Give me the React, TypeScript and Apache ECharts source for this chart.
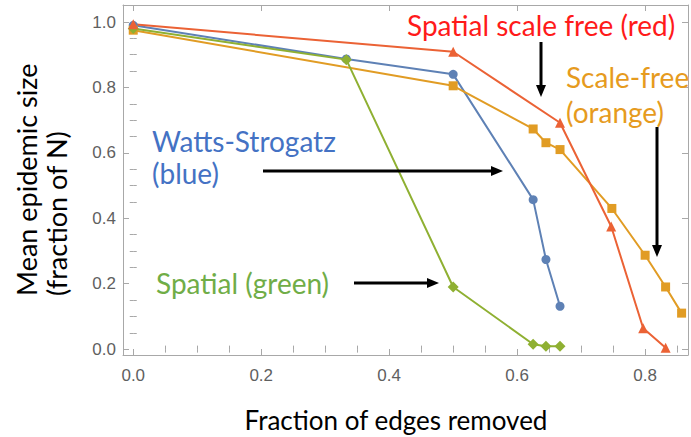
import React, { useEffect, useRef } from "react";
import * as echarts from "echarts";

// Series data (fraction of edges removed, mean epidemic size)
const wsX = [0, 0.333, 0.5, 0.625, 0.645, 0.667];
const wsY = [0.99, 0.887, 0.84, 0.457, 0.274, 0.131];
const sfX = [0, 0.5, 0.625, 0.645, 0.667, 0.748, 0.8, 0.832, 0.857];
const sfY = [0.975, 0.805, 0.673, 0.631, 0.61, 0.43, 0.287, 0.19, 0.11];
const spX = [0, 0.333, 0.5, 0.625, 0.645, 0.667];
const spY = [0.98, 0.885, 0.19, 0.015, 0.009, 0.009];
const ssfX = [0, 0.5, 0.667, 0.747, 0.797, 0.832];
const ssfY = [0.993, 0.909, 0.692, 0.375, 0.064, 0.004];

// Axis ticks
const xMajor = [0, 0.2, 0.4, 0.6, 0.8];
const xMinor = [0.05, 0.1, 0.15, 0.25, 0.3, 0.35, 0.45, 0.5, 0.55, 0.65, 0.7, 0.75, 0.85];
const yMajor = [0, 0.2, 0.4, 0.6, 0.8, 1.0];
const yMinor = [0.05, 0.1, 0.15, 0.25, 0.3, 0.35, 0.45, 0.5, 0.55, 0.65, 0.7, 0.75, 0.85, 0.9, 0.95];

const X_MIN = -0.016;
const X_MAX = 0.867;
const Y_MIN = -0.018;
const Y_MAX = 1.052;

const FRAME = "#a8a8a8";
const LABEL = "#5f5f5f";
const FONT = "Lato";

const pairs = (xs: number[], ys: number[]) => xs.map((x, i) => [x, ys[i]]);

function axisPair(kind: "x" | "y", pos: string, major: number[], minor: number[], labels: boolean) {
  const min = kind === "x" ? X_MIN : Y_MIN;
  const max = kind === "x" ? X_MAX : Y_MAX;
  return [
    {
      type: "value",
      position: pos,
      min,
      max,
      axisLine: { show: true, onZero: false, lineStyle: { color: FRAME, width: 1 } },
      axisTick: { show: true, inside: true, length: 6, customValues: major, lineStyle: { color: FRAME, width: 1 } },
      axisLabel: {
        show: labels,
        customValues: major,
        formatter: (v: number) => v.toFixed(1),
        color: LABEL,
        fontSize: 17,
        fontFamily: "Liberation Sans",
        margin: kind === "x" ? 12 : 7,
      },
      splitLine: { show: false },
    },
    {
      type: "value",
      position: pos,
      min,
      max,
      axisLine: { show: false },
      axisTick: { show: true, inside: true, length: 3.5, customValues: minor, lineStyle: { color: FRAME, width: 1 } },
      axisLabel: { show: false },
      splitLine: { show: false },
    },
  ];
}

function arrow(x1: number, y1: number, x2: number, y2: number) {
  const dx = x2 - x1;
  const dy = y2 - y1;
  const len = Math.sqrt(dx * dx + dy * dy);
  const ux = dx / len;
  const uy = dy / len;
  const hl = 12;
  const hw = 5;
  const bx = x2 - ux * hl;
  const by = y2 - uy * hl;
  return [
    {
      type: "line",
      shape: { x1, y1, x2: bx + ux * 2, y2: by + uy * 2 },
      style: { stroke: "#000", lineWidth: 3 },
      z: 100,
    },
    {
      type: "polygon",
      shape: {
        points: [
          [x2, y2],
          [bx - uy * hw, by + ux * hw],
          [bx + uy * hw, by - ux * hw],
        ],
      },
      style: { fill: "#000" },
      z: 100,
    },
  ];
}

function label(text: string, x: number, y: number, color: string, size = 28) {
  return {
    type: "text",
    x,
    y,
    z: 100,
    style: {
      text,
      fill: color,
      font: `${size}px ${FONT}`,
      textAlign: "left",
      textVerticalAlign: "middle",
    },
  };
}

export default function App() {
  const ref = useRef<HTMLDivElement>(null);

  useEffect(() => {
    document.body.style.margin = "0";
    if (!ref.current) return;
    const chart = echarts.init(ref.current, null, { renderer: "svg" });

    const lineSeries = (name: string, xs: number[], ys: number[], color: string, symbol: string, size: number) => ({
      name,
      type: "line",
      data: pairs(xs, ys),
      xAxisIndex: 0,
      yAxisIndex: 0,
      symbol,
      symbolSize: size,
      showSymbol: true,
      lineStyle: { color, width: 2 },
      itemStyle: { color, borderWidth: 0 },
      emphasis: { disabled: true },
    });

    chart.setOption({
      animation: false,
      backgroundColor: "#ffffff",
      grid: { left: 123, right: 3, top: 5, bottom: 82, containLabel: false },
      xAxis: [
        ...axisPair("x", "bottom", xMajor, xMinor, true),
        ...axisPair("x", "top", xMajor, xMinor, false),
      ],
      yAxis: [
        ...axisPair("y", "left", yMajor, yMinor, true),
        ...axisPair("y", "right", yMajor, yMinor, false),
      ],
      series: [
        lineSeries("Watts-Strogatz", wsX, wsY, "#5E81B5", "circle", 9),
        lineSeries("Scale-free", sfX, sfY, "#E19C24", "rect", 9),
        lineSeries("Spatial", spX, spY, "#8FB032", "diamond", 11),
        lineSeries("Spatial scale free", ssfX, ssfY, "#EB6235", "triangle", 10),
      ],
      graphic: [
        label("Spatial scale free (red)", 407, 25, "#FF1A1A"),
        label("Scale-free", 566, 77, "#E69B1E"),
        label("(orange)", 566, 112, "#E69B1E"),
        label("Watts-Strogatz", 152, 141, "#4472C4"),
        label("(blue)", 152, 173, "#4472C4"),
        label("Spatial (green)", 156, 283, "#70AD47"),
        ...arrow(541, 42, 541, 97),
        ...arrow(657, 127, 657, 257),
        ...arrow(263, 171, 503, 171),
        ...arrow(354, 283, 439, 283),
        {
          type: "text",
          x: 396,
          y: 420,
          style: {
            text: "Fraction of edges removed",
            fill: "#000",
            font: `26px ${FONT}`,
            textAlign: "center",
            textVerticalAlign: "middle",
          },
        },
        {
          type: "text",
          x: 26,
          y: 296,
          rotation: Math.PI / 2,
          style: {
            text: "Mean epidemic size",
            fill: "#000",
            font: `27px ${FONT}`,
            textAlign: "left",
            textVerticalAlign: "middle",
          },
        },
        {
          type: "text",
          x: 56,
          y: 296,
          rotation: Math.PI / 2,
          style: {
            text: "(fraction of N)",
            fill: "#000",
            font: `27px ${FONT}`,
            textAlign: "left",
            textVerticalAlign: "middle",
          },
        },
      ],
    });

    return () => chart.dispose();
  }, []);

  return <div ref={ref} style={{ width: 691, height: 437 }} />;
}
